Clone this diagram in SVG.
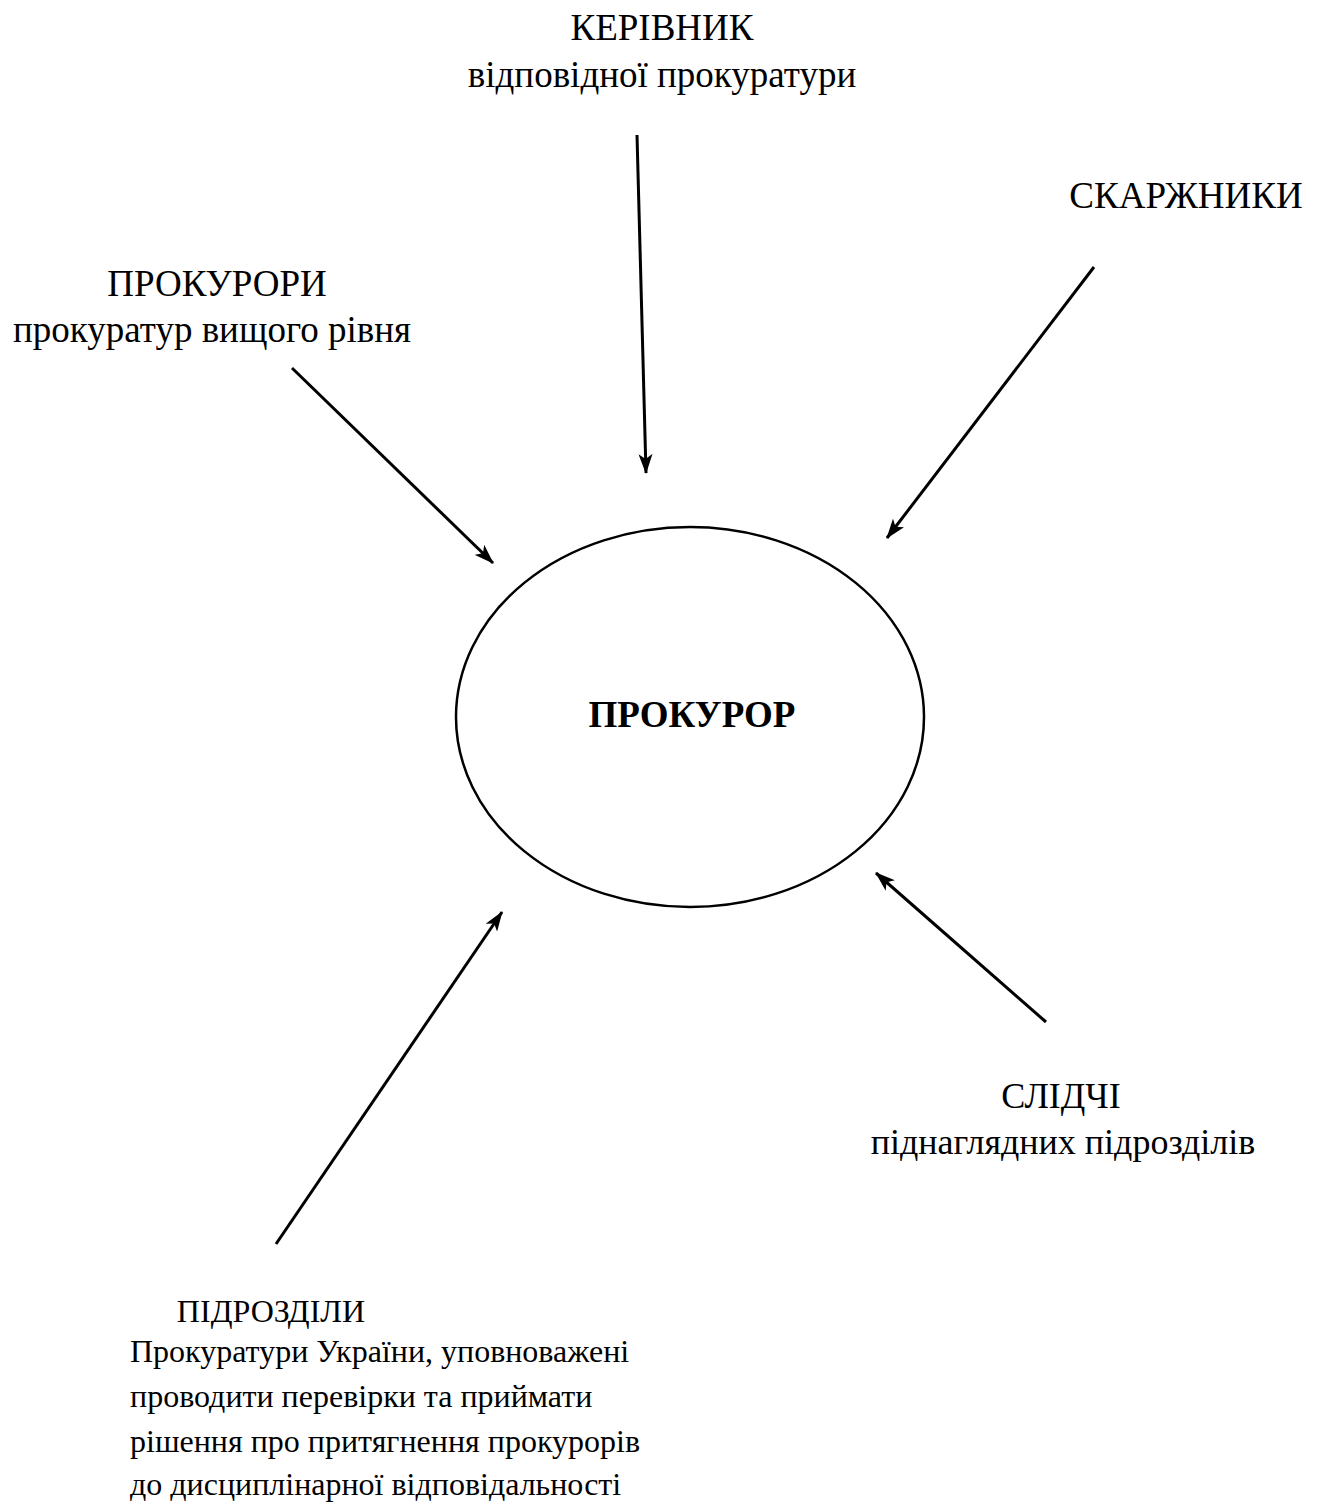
<svg xmlns="http://www.w3.org/2000/svg" width="1324" height="1505" viewBox="0 0 1324 1505">
<defs>
<style>
text{font-family:"Liberation Serif","Times New Roman",serif;font-size:37px;fill:#000}
.c{text-anchor:middle}
.b{font-weight:bold}
.s{font-size:32px}
.ln{stroke:#000;stroke-width:3;fill:none}
</style>
<marker id="ah" viewBox="0 0 20 14" refX="19" refY="7" markerWidth="20" markerHeight="14" markerUnits="userSpaceOnUse" orient="auto">
<path d="M0,0 L20,7 L0,14 L5,7 Z" fill="#000"/>
</marker>
</defs>
<rect width="1324" height="1505" fill="#fff"/>
<g id="connectors">
<line class="ln" x1="637" y1="135" x2="646" y2="473" marker-end="url(#ah)"/>
<line class="ln" x1="292" y1="368" x2="493" y2="563" marker-end="url(#ah)"/>
<line class="ln" x1="1094" y1="267" x2="887" y2="538" marker-end="url(#ah)"/>
<line class="ln" x1="1046" y1="1022" x2="876" y2="873" marker-end="url(#ah)"/>
<line class="ln" x1="276" y1="1244" x2="502" y2="912" marker-end="url(#ah)"/>
</g>
<g id="prokuror">
<ellipse cx="690" cy="717" rx="234" ry="190" fill="none" stroke="#000" stroke-width="2.5"/>
<text class="c b" x="692" y="727">ПРОКУРОР</text>
</g>
<g id="kerivnyk">
<text class="c" x="662" y="40">КЕРІВНИК</text>
<text class="c" x="662" y="87">відповідної прокуратури</text>
</g>
<g id="skarzhnyky">
<text class="c" x="1186" y="208">СКАРЖНИКИ</text>
</g>
<g id="prokurory">
<text class="c" x="217" y="296">ПРОКУРОРИ</text>
<text class="c" x="212" y="342">прокуратур вищого рівня</text>
</g>
<g id="slidchi">
<text class="c" x="1061" y="1108" style="font-size:36px">СЛІДЧІ</text>
<text class="c" x="1063" y="1154" style="font-size:36px">піднаглядних підрозділів</text>
</g>
<g id="pidrozdily" class="s">
<text class="c s" x="271" y="1322">ПІДРОЗДІЛИ</text>
<text class="s" x="130" y="1362">Прокуратури України, уповноважені</text>
<text class="s" x="130" y="1407">проводити перевірки та приймати</text>
<text class="s" x="130" y="1452">рішення про притягнення прокурорів</text>
<text class="s" x="130" y="1495">до дисциплінарної відповідальності</text>
</g>
</svg>
